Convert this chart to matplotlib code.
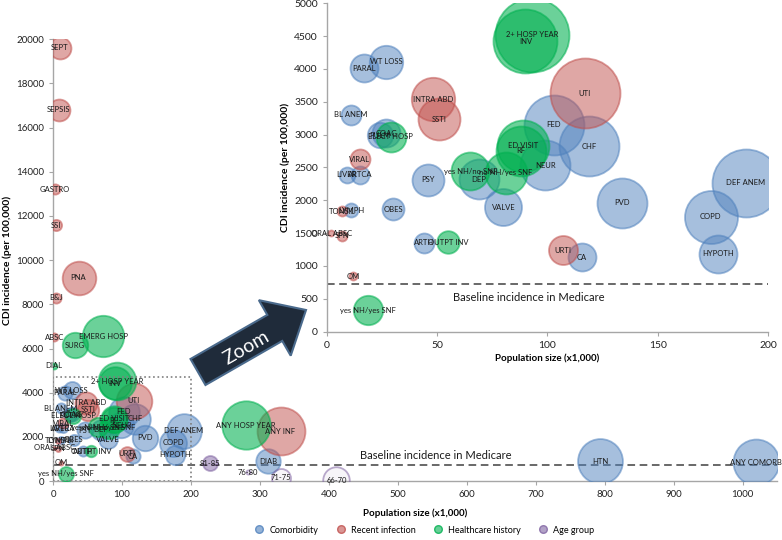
import numpy as np
import matplotlib.pyplot as plt
from matplotlib.patches import FancyArrow, Rectangle
from matplotlib.lines import Line2D
from matplotlib.transforms import IdentityTransform

plt.rcParams['font.family'] = ['Lato', 'DejaVu Sans']

# bubble chart data: label, risk-factor group, population (x1,000), CDI incidence, bubble size
labels = ["PARAL", "WT LOSS", "BL ANEM", "PULM", "COAG", "LIVER", "ARTCA", "PSY", "FED", "CHF",
          "NEUR", "DEP", "VALVE", "ARTH", "CA", "PVD", "DEF ANEM", "COPD", "HYPOTH", "LYMPH",
          "OBES", "DIAB", "HTN", "ANY COMORB",
          "SEPT", "SEPSIS", "GASTRO", "SSI", "PNA", "B&J", "ABSC", "INTRA ABD", "SSTI", "VIRAL",
          "UTI", "URTI", "TONSIL", "ORAL ABSC", "SPN", "OM", "ANY INF",
          "2+ HOSP YEAR", "INV", "ELECT HOSP", "ED VISIT", "RF", "yes NH/no SNF", "no NH/yes SNF",
          "OUTPT INV", "yes NH/yes SNF", "EMERG HOSP", "SURG", "DIAL", "ANY HOSP YEAR",
          "81-85", "76-80", "71-75", "66-70"]
group = [0] * 24 + [1] * 17 + [2] * 13 + [3] * 4
pop_x = [17, 27, 11, 24, 27, 9, 15, 46, 103, 119,
         99, 69, 80, 44, 115.5, 134, 190, 174, 177.5, 11,
         30, 312, 794, 1020,
         10, 8, 3, 4.4, 37, 4.4, 2, 48, 51, 15,
         117, 107, 7, 2, 7, 12, 330,
         93, 90, 29, 89, 88, 65, 81,
         55, 18.5, 73, 32, 1, 280,
         227, 283, 331, 411]
cdi_y = [4010, 4110, 3300, 2990, 3020, 2390, 2390, 2310, 3150, 2820,
         2530, 2320, 1890, 1350, 1135, 1965, 2270, 1745, 1185, 1845,
         1865, 900, 900, 850,
         19600, 16800, 13200, 11570, 9200, 8290, 6500, 3540, 3230, 2625,
         3630, 1235, 1830, 1500, 1460, 840, 2260,
         4520, 4420, 2970, 2830, 2750, 2440, 2420,
         1357, 325, 6550, 6140, 5220, 2520,
         820, 400, 150, 30]
bubble = [14, 16.7, 10, 12.7, 14, 8, 9, 16, 30, 30,
          25, 20, 18.5, 10, 14, 25, 34, 26.5, 19, 7,
          11, 24, 44, 45,
          21.5, 21.5, 10, 11, 33, 10, 8, 21.7, 21, 10,
          35, 14.5, 5, 3, 5, 4, 47,
          37, 32, 15, 26, 25, 19, 21,
          11.3, 14.7, 40.6, 25, 6, 47.5,
          14.7, 4, 18.6, 26]

group_names = ["Comorbidity", "Recent infection", "Healthcare history", "Age group"]
group_colors = ["#4F81BD", "#C0504D", "#00B050", "#8064A2"]
group_alpha = [0.5, 0.5, 0.58, 0.5]
hollow = ["76-80", "71-75", "66-70"]
baseline = 730

fig = plt.figure(figsize=(7.82, 5.40), dpi=100)
ax = fig.add_axes([0.0678, 0.109, 0.9258, 0.8185])
axin = fig.add_axes([0.418, 0.386, 0.564, 0.608])


def draw_bubbles(a, scale, xmax, ymax, fs):
    for g in range(4):
        for i in range(len(labels)):
            if group[i] != g:
                continue
            r = bubble[i] * scale
            s = (2 * r * 0.72) ** 2
            c = group_colors[g]
            alpha_f = 0.06 if labels[i] in hollow else group_alpha[g]
            a.scatter(pop_x[i], cdi_y[i], s=s, facecolor=plt.matplotlib.colors.to_rgba(c, alpha_f),
                      edgecolor=plt.matplotlib.colors.to_rgba(c, 0.55), linewidths=1.3, zorder=3)
    for i in range(len(labels)):
        if pop_x[i] <= xmax and cdi_y[i] <= ymax:
            a.text(pop_x[i], cdi_y[i], labels[i], ha="center", va="center", fontsize=fs,
                   color="#1a1a1a", zorder=6, clip_on=False)


def style_axes(a, tick_fs):
    for sp in ["top", "right"]:
        a.spines[sp].set_visible(False)
    for sp in ["left", "bottom"]:
        a.spines[sp].set_color("#A6A6A6")
        a.spines[sp].set_linewidth(1.0)
    a.tick_params(axis="both", colors="#A6A6A6", labelcolor="#222222", labelsize=tick_fs,
                  length=3, width=0.8, direction="out")


# main chart
draw_bubbles(ax, 0.51, 1100, 21000, 5.5)
ax.set_xlim(0, 1050)
ax.set_ylim(0, 20000)
ax.set_xticks(np.arange(0, 1001, 100))
ax.set_yticks(np.arange(0, 20001, 2000))
style_axes(ax, 7)
ax.axhline(baseline, color="#404040", ls=(0, (5, 3)), lw=1.1, zorder=2)
ax.text(445, baseline + 180, "Baseline incidence in Medicare", fontsize=8, color="#1a1a1a",
        ha="left", va="bottom")
ax.add_patch(Rectangle((0, 0), 200, 4700, fill=False, ls=":", ec="#7F7F7F", lw=1.2, zorder=4))
ax.set_xlabel("Population size (x1,000)", fontsize=7, fontweight="bold", labelpad=7)
ax.set_ylabel("CDI incidence (per 100,000)", fontsize=7.5, fontweight="bold", labelpad=3)

# zoomed inset
axin.set_facecolor("white")
draw_bubbles(axin, 1.0, 200, 5000, 5.5)
axin.set_xlim(0, 200)
axin.set_ylim(0, 5000)
axin.set_xticks(np.arange(0, 201, 50))
axin.set_yticks(np.arange(0, 5001, 500))
style_axes(axin, 7.5)
axin.axhline(baseline, color="#404040", ls=(0, (5, 3)), lw=1.1, zorder=2)
axin.text(57, baseline - 130, "Baseline incidence in Medicare", fontsize=8, color="#1a1a1a",
          ha="left", va="top")
axin.set_xlabel("Population size (x1,000)", fontsize=7, fontweight="bold", labelpad=3)
axin.set_ylabel("CDI incidence (per 100,000)", fontsize=7.5, fontweight="bold", labelpad=3)

# zoom arrow (pixel coordinates)
arr = FancyArrow(198, 168, 108, 62, width=30, head_width=64, head_length=36,
                 length_includes_head=True, transform=IdentityTransform(),
                 facecolor="#1F2B3A", edgecolor="#4A6A8C", linewidth=1.5)
fig.add_artist(arr)
fig.text(246 / 782, 192 / 540, "Zoom", color="white", fontsize=14, rotation=30,
         ha="center", va="center")

# legend
handles = [Line2D([0], [0], marker="o", ls="", markersize=5.5,
                  markerfacecolor=plt.matplotlib.colors.to_rgba(c, 0.6),
                  markeredgecolor=plt.matplotlib.colors.to_rgba(c, 0.8)) for c in group_colors]
fig.legend(handles, group_names, loc="lower center", bbox_to_anchor=(0.54, -0.005), ncol=4,
           frameon=False, fontsize=6.5, handletextpad=0.1, columnspacing=1.5)

fig.savefig("out.png", dpi=100)
